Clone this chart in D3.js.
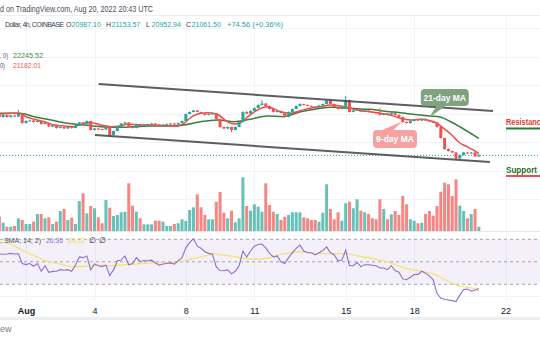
<!DOCTYPE html>
<html><head><meta charset="utf-8">
<script src="https://cdn.jsdelivr.net/npm/d3@7"></script>
<style>html,body{margin:0;padding:0;background:#fff;overflow:hidden}svg{display:block;font-family:"Liberation Sans",Arial,sans-serif}</style>
</head><body><svg id="c" width="540" height="340"></svg>
<script>
// ---- DATA (4h candles, index t counted from Aug 1 00:00 UTC, first candle t=-7) ----
const firstT = -7;
const opens = [23895,23754,23895,23754,23860,23790,23965,
23333,23474,23509,23404,23474,23263,23333,23088,23193,22983,
23053,22947,23053,22983,23158,23369,23263,23474,22842,22947,
22912,22877,23053,22491,22772,23123,23298,23369,23053,22983,
23263,23158,23228,23263,23298,23228,23158,23228,23263,23298,
23228,23333,23474,23965,24105,24211,24105,24000,23895,23965,
24000,23614,23053,22947,23053,22842,23053,23404,24105,24000,
24176,24386,24597,24702,24526,24316,24105,24176,24035,23754,
24105,24316,24526,24667,24597,24526,24491,24456,24562,24667,
24912,24667,24456,24316,24456,24948,24105,24211,24281,24140,
24211,24105,24070,24035,23895,24000,23930,24035,23895,23754,
23404,23333,23474,23579,23509,23614,23509,23474,23369,23053,
22281,21509,21368,21263,20842,21088,21263,21193,21263,20987.10];
const highs = [23960,23940,23930,23900,23900,24250,23990,
23520,23560,23540,23510,23500,23380,23360,23230,23220,23090,
23080,23090,23090,23190,23420,23400,23510,23490,22990,22980,
22940,23090,23070,22800,23150,23330,23420,23390,23080,23290,
23290,23260,23290,23330,23320,23250,23250,23290,23330,23320,
23360,23510,24000,24150,24250,24240,24130,24030,24000,24040,
24030,23640,23080,23090,23070,23090,23440,24150,24170,24220,
24420,24640,24950,24740,24560,24340,24210,24200,24060,24140,
24350,24560,24710,24700,24630,24560,24520,24600,24700,24960,
24940,24690,24480,24490,25230,24980,24250,24320,24310,24250,
24240,24140,24100,24390,24040,24030,24070,24060,23920,23780,
23440,23510,23620,23610,23650,23640,23540,23500,23400,23080,
22310,21560,21400,21300,21130,21300,21290,21300,21290,21153.57];
const lows = [23700,23710,23700,23720,23740,23760,23300,
23290,23430,23360,23370,23220,23230,23050,23050,22940,22950,
22900,22920,22940,22960,23140,23230,23240,22800,22810,22880,
22840,22850,22350,22460,22750,23100,23270,23000,22950,22960,
23130,23130,23200,23240,23200,23130,23140,23210,23240,23200,
23210,23310,23450,23940,24080,24080,23970,23860,23870,23940,
23580,23000,22900,22910,22700,22820,23030,23380,23960,23970,
24150,24360,24570,24490,24280,24070,24080,24000,23720,23730,
24080,24300,24500,24570,24500,24460,24420,24430,24540,24640,
24640,24420,24280,24290,24430,24070,24080,24180,24110,24110,
24070,24040,24000,23860,23870,23900,23900,23860,23720,23370,
23290,23300,23450,23480,23480,23480,23440,23330,23020,22240,
21460,21330,21220,20780,20810,21050,21160,21170,20950,20952.94];
const closes = [23754,23895,23754,23860,23790,23965,23333,
23474,23509,23404,23474,23263,23333,23088,23193,22983,23053,
22947,23053,22983,23158,23369,23263,23474,22842,22947,22912,
22877,23053,22491,22772,23123,23298,23369,23053,22983,23263,
23158,23228,23263,23298,23228,23158,23228,23263,23298,23228,
23333,23474,23965,24105,24211,24105,24000,23895,23965,24000,
23614,23053,22947,23053,22842,23053,23404,24105,24000,24176,
24386,24597,24702,24526,24316,24105,24176,24035,23754,24105,
24316,24526,24667,24597,24526,24491,24456,24562,24667,24912,
24667,24456,24316,24456,24948,24105,24211,24281,24140,24211,
24105,24070,24035,23895,24000,23930,24035,23895,23754,23404,
23333,23474,23579,23509,23614,23509,23474,23369,23053,22281,
21509,21368,21263,20842,21088,21263,21193,21263,20987,21061.50];
const volumes = [1430,830,430,430,500,1270,1100,
700,700,930,1700,1700,1270,1370,700,930,2000,
2200,1100,1330,700,3000,3770,1770,2500,2270,1370,
770,3100,2330,1500,1600,1870,1930,4770,2530,1930,
1270,670,670,670,1030,1030,930,500,500,700,
770,1170,1000,2100,2370,3670,2370,1600,1170,1170,
2930,3900,1830,1270,2030,870,1270,5370,2500,2030,
2670,2430,1930,4770,2600,1930,1700,1100,1430,1600,
1870,1870,1870,1370,1270,1100,1100,930,1830,4670,
2200,1170,1870,1030,2770,2930,2270,3170,2030,1870,
1700,1270,1170,3170,2200,1170,1670,2000,1600,3500,
2670,1170,1030,770,830,1700,2000,1530,2500,3930,
4830,4670,3500,5170,2530,2000,1270,1700,2200,430];
const rsi = [57,56.7,57,57.5,57,57.2,48.5,
47.5,48.5,46,48.5,41.6,46.5,40.7,41.5,41.6,43,
42.5,43,41.6,47,54.3,53.7,55.2,42.8,48,46.5,
45.7,47,37.8,42.8,50.9,51.5,55.2,47.4,48.5,53.7,
50.3,50.9,51,51.5,49,47.1,48,48.5,49,48,
50.9,53.7,62.4,67,70.6,63.9,62,59,57.5,56.7,
45.5,42.2,42,42.8,39.3,41.6,46.5,59.6,54.3,59.6,
63.9,65.4,65.8,62.4,57.5,54.3,55.2,50,48.5,53.7,
58.1,62,64.8,59.6,58.1,58.1,56.1,58.1,60,63.3,
58,56.1,50.9,51.5,60.2,46.5,46.5,49.4,45.7,47.4,
47.4,47,46.5,44.5,44.5,43,46.5,42.2,40.7,35,
34.1,36.3,38.7,38.7,41.6,39.8,37.5,34,22,17.5,
16.7,16.1,15.5,14.6,20.4,25.4,25.7,23.9,25,26.36];
const rsiSmaT = [-6.8,-3.9,-1.3,1.3,3.9,6.6,9.2,11.8,14.4,17,19.7,22.3,24.9,28.3,31.9,35.4,38,40.6,43.3,45.9,48.5,49.8,51.1,53.8,56.4,59,61.6,64.3,66.9,69.5,72.1,74.7,77.4,80,82.6,84.4,87.1,90.5,93.9,96.5,99.1,101.8,104.4,107,109.6,112.2,114.9,117.5,119];
const rsiSmaV = [68.3,65.4,61,56.7,52.9,49.4,48,45.7,45.7,46.5,47.1,46.5,47.1,48,48.8,49.4,49.4,50.3,52.4,54.3,56.1,57.2,56.1,55.2,53.7,52.4,52.4,54,56.7,58.1,59,58.1,57.2,57.2,57.2,57.2,55.2,53.2,50.9,48,45.1,42.8,41.3,39.3,35,30.6,27.8,26.4,24.22];
const ma9T = [-6.8,-3.9,-1.8,0,2.2,4.8,7.4,10,12.7,15.3,17,19.7,22.3,24.9,26.7,30.2,33.6,37.2,39.8,41.5,43.3,45.9,47.7,50.1,52.9,54.6,56.4,58.1,60.8,63.4,66.9,69.5,72.1,74.7,77.4,80,82.6,85.2,87.9,90.5,93.1,95.7,98.3,101,103.6,106.2,108,109.7,111.9,113.6,115.8,117.5,119];
const ma9V = [23944,24014,24014,23776,23593,23425,23193,23123,23074,23312,23354,23193,23074,23123,23263,23193,23193,23123,23123,23312,23733,24014,24056,23965,23425,23263,23354,23733,24246,24477,24126,24014,24197,24365,24477,24597,24526,24365,24197,24126,24014,23895,23663,23544,23593,23495,23312,22961,22491,22021,21670,21450,21182];
const ma21T = [-6.8,-1.8,2.2,6.6,10.9,15.3,19.7,24,28.4,32.8,37.2,41.5,45.9,50.3,54.6,59,63.4,67.7,69.5,72.1,74.7,77.4,80,82.6,85.2,87.9,90.5,93.1,95.7,98.3,101,103.6,106.2,108.8,111.5,114.1,116.7,119];
const ma21V = [24014,24014,23776,23544,23312,23193,23074,23032,23074,23123,23123,23193,23425,23544,23425,23593,23825,23776,23895,24126,24246,24365,24435,24407,24365,24316,24295,24197,24126,24056,23965,23895,23825,23755,23439,23053,22632,22245];
const channelUpper = [[19.1, 26070], [122.7, 24176]];
const channelLower = [[18.1, 22491], [121.9, 20596]];
const resistanceLevel = 22950, supportLevel = 19610;
const tickDates = ["2022-08-01","2022-08-04","2022-08-08","2022-08-11","2022-08-15","2022-08-18","2022-08-22"];
const tickLabels = ["Aug","4","8","11","15","18","22"];
const priceGrid = [18000,20000,22000,24000,26000,28000,30000];
const rsiLevels = [70,50,30];
const lastClose = 21061.50;
const ohlcLabels = ["O","H","L","C"];
const ohlcValues = ["20987.10","21153.57","20952.94","21061.50"];

// ---- SCALES ----
const H4 = 4*3600*1000, T0 = Date.UTC(2022,7,1);
const tDate = t => new Date(T0 + t*H4);
const x = d3.scaleUtc().domain([new Date("2022-08-01T00:00Z"), new Date("2022-08-22T00:00Z")]).range([26, 505.5]);
const xt = t => x(tDate(t));
const y = d3.scaleLinear().domain([20000, 30000]).range([170.5, 28]);
const yv = d3.scaleLinear().domain([0, 5400]).range([231, 177]);
const yr = d3.scaleLinear().domain([30, 70]).range([284.3, 239.3]);

const candles = closes.map((c,i)=>({t:firstT+i,o:opens[i],h:highs[i],l:lows[i],c:c,v:volumes[i],r:rsi[i]}));
const UP="#26a69a", DN="#ef5350";

const svg = d3.select("#c");
const defs = svg.append("defs");
defs.append("clipPath").attr("id","pc").append("rect").attr("x",0).attr("y",16).attr("width",540).attr("height",215);
defs.append("clipPath").attr("id","rc").append("rect").attr("x",0).attr("y",232).attr("width",540).attr("height",74);
svg.append("rect").attr("width",540).attr("height",340).attr("fill","#fff");

// grid
const grid = svg.append("g").attr("stroke","#f0f3fa").attr("stroke-width",1);
grid.selectAll(".v").data(tickDates).join("line")
  .attr("x1",d=>Math.round(x(new Date(d+"T00:00Z")))+0.5).attr("x2",d=>Math.round(x(new Date(d+"T00:00Z")))+0.5)
  .attr("y1",16).attr("y2",300);
grid.selectAll(".h").data(priceGrid).join("line")
  .attr("x1",0).attr("x2",540).attr("y1",d=>Math.round(y(d))+0.5).attr("y2",d=>Math.round(y(d))+0.5);
svg.append("line").attr("x1",0).attr("x2",540).attr("y1",15.5).attr("y2",15.5).attr("stroke","#eceef3");
svg.append("line").attr("x1",0).attr("x2",540).attr("y1",231.5).attr("y2",231.5).attr("stroke","#e6e8ee");
svg.append("line").attr("x1",0).attr("x2",540).attr("y1",296.5).attr("y2",296.5).attr("stroke","#f0f3fa");
svg.append("rect").attr("x",0).attr("y",317).attr("width",540).attr("height",3).attr("fill","#eceef2");

// RSI band
svg.append("rect").attr("x",0).attr("width",540).attr("y",yr(70)).attr("height",yr(30)-yr(70)).attr("fill","#7e57c2").attr("fill-opacity",0.09);
svg.selectAll(".rl").data(rsiLevels).join("line")
  .attr("x1",0).attr("x2",540).attr("y1",d=>yr(d)).attr("y2",d=>yr(d))
  .attr("stroke","#a3a6af").attr("stroke-dasharray","3,3").attr("stroke-width",1);

// price pane
const pp = svg.append("g").attr("clip-path","url(#pc)");
pp.selectAll(".vol").data(candles).join("rect")
  .attr("x",d=>xt(d.t)-1.5).attr("width",3)
  .attr("y",d=>yv(d.v)).attr("height",d=>yv(0)-yv(d.v))
  .attr("fill",d=>d.c>=d.o?UP:DN).attr("fill-opacity",0.7);
pp.append("line").attr("x1",0).attr("x2",540).attr("y1",y(lastClose)).attr("y2",y(lastClose))
  .attr("stroke",UP).attr("stroke-dasharray","1,2").attr("stroke-width",1);
const lineT = d3.line().x(d=>xt(d[0])).y(d=>y(d[1])).curve(d3.curveMonotoneX);
pp.append("path").attr("d",lineT(ma21T.map((t,i)=>[t,ma21V[i]]))).attr("fill","none").attr("stroke","#3b7f3b").attr("stroke-width",1.5);
pp.append("path").attr("d",lineT(ma9T.map((t,i)=>[t,ma9V[i]]))).attr("fill","none").attr("stroke","#f04a4a").attr("stroke-width",1.5);
pp.selectAll(".wick").data(candles).join("line")
  .attr("x1",d=>xt(d.t)).attr("x2",d=>xt(d.t)).attr("y1",d=>y(d.h)).attr("y2",d=>y(d.l))
  .attr("stroke",d=>d.c>=d.o?UP:DN).attr("stroke-width",1);
pp.selectAll(".body").data(candles).join("rect")
  .attr("x",d=>xt(d.t)-1.5).attr("width",3)
  .attr("y",d=>y(Math.max(d.o,d.c))).attr("height",d=>Math.max(1,Math.abs(y(d.o)-y(d.c))))
  .attr("fill",d=>d.c>=d.o?UP:DN);
const chan = d3.line().x(d=>xt(d[0])).y(d=>y(d[1]));
[channelUpper, channelLower].forEach(c=>pp.append("path").attr("d",chan(c)).attr("stroke","#4d4d4d").attr("stroke-width",2).attr("fill","none").attr("stroke-opacity",0.9));

// annotations anchored to MA lines
function callout(tipT, tipP, box, tail, fill, text){
  const tx = xt(tipT), ty = y(tipP);
  const g = svg.append("g");
  g.append("path").attr("d",`M${tx+tail[0]},${ty+tail[1]}L${tx+tail[2]},${ty+tail[3]}L${tx},${ty}Z`).attr("fill",fill);
  g.append("rect").attr("x",tx+box[0]).attr("y",ty+box[1]).attr("width",box[2]).attr("height",box[3]).attr("rx",4).attr("fill",fill);
  g.append("text").attr("x",tx+box[0]+box[2]/2).attr("y",ty+box[1]+box[3]/2+3.2).attr("text-anchor","middle")
    .attr("fill","#fff").attr("font-size",8.5).attr("font-weight","bold").text(text);
}
callout(106.1, 23754, [-9,-28,48,17], [7,-12,17,-12], "#7fa27f", "21-day MA");
callout(98.8, 23439, [-29,8.5,44,18], [-21,9,-9,9], "#f6a2a2", "9-day MA");

// support / resistance
const sx = x(new Date("2022-08-22T00:00Z"));
svg.append("text").attr("x",sx+0.5).attr("y",y(resistanceLevel)-3).attr("fill","#e53935").attr("font-weight","bold").attr("font-size",9).attr("textLength",39).attr("lengthAdjust","spacingAndGlyphs").text("Resistance");
svg.append("line").attr("x1",sx+0.5).attr("x2",540).attr("y1",y(resistanceLevel)).attr("y2",y(resistanceLevel)).attr("stroke","#2e7d32").attr("stroke-width",2);
svg.append("text").attr("x",sx+0.5).attr("y",y(supportLevel)-3).attr("fill","#2e6b22").attr("font-weight","bold").attr("font-size",9).attr("textLength",31).attr("lengthAdjust","spacingAndGlyphs").text("Support");
svg.append("line").attr("x1",sx+0.5).attr("x2",540).attr("y1",y(supportLevel)).attr("y2",y(supportLevel)).attr("stroke","#f05050").attr("stroke-width",2);

// RSI pane
const rp = svg.append("g").attr("clip-path","url(#rc)");
rp.append("path").attr("d",d3.line().x(d=>xt(d[0])).y(d=>yr(d[1])).curve(d3.curveMonotoneX)(rsiSmaT.map((t,i)=>[t,rsiSmaV[i]])))
  .attr("fill","none").attr("stroke","#f5e26a").attr("stroke-width",1.2);
rp.append("path").attr("d",d3.line().x(d=>xt(d.t)).y(d=>yr(d.r))(candles))
  .attr("fill","none").attr("stroke","#8f6fd0").attr("stroke-width",1.1);

// texts
function txt(xp, yp, s, col, size, len, weight){
  const t = svg.append("text").attr("x",xp).attr("y",yp).attr("fill",col).attr("font-size",size).text(s);
  if(len) t.attr("textLength",len).attr("lengthAdjust","spacingAndGlyphs");
  if(weight) t.attr("font-weight",weight);
  return t;
}
txt(0, 11.5, "d on TradingView.com, Aug 20, 2022 20:43 UTC", "#4a4e59", 9, 153);
txt(5, 27, "Dollar, 4h, COINBASE", "#3a3e49", 7).attr("letter-spacing",-0.55);
ohlcLabels.forEach((l,i)=>{
  const gx = 66 + i*40;
  txt(gx, 27, l, "#3a3e49", 7);
  txt(gx + 5.6, 27, ohlcValues[i], UP, 7);
});
txt(227, 27, "+74.56 (+0.36%)", UP, 7.5);
txt(0, 58, ", 0)", "#50535e", 8, 8);
txt(13, 58, "22245.52", "#4a8a3a", 8, 30);
txt(0, 68, "0)", "#50535e", 8, 5);
txt(13, 68, "21182.01", "#f05454", 8, 28);
txt(0, 243, ", SMA, 14, 2)", "#50535e", 8, 41);
txt(46, 243, "26.36", "#8f6fd0", 8, 17);
txt(68, 243, "24.22", "#f0d84a", 8, 17);
txt(89, 243, "∅", "#222", 8);
txt(99, 243, "∅", "#222", 8);
txt(0, 332, "ew", "#787b86", 9);

// time axis
const ax = svg.append("g").attr("transform","translate(0,300)")
  .call(d3.axisBottom(x).tickValues(tickDates.map(d=>new Date(d+"T00:00Z"))).tickFormat((d,i)=>tickLabels[i]).tickSize(0).tickPadding(8));
ax.select(".domain").remove();
ax.selectAll("text").attr("fill","#131722").attr("font-size",9).attr("font-family","Liberation Sans, Arial, sans-serif")
  .attr("font-weight",(d,i)=>i===0?"bold":"normal");
</script></body></html>
